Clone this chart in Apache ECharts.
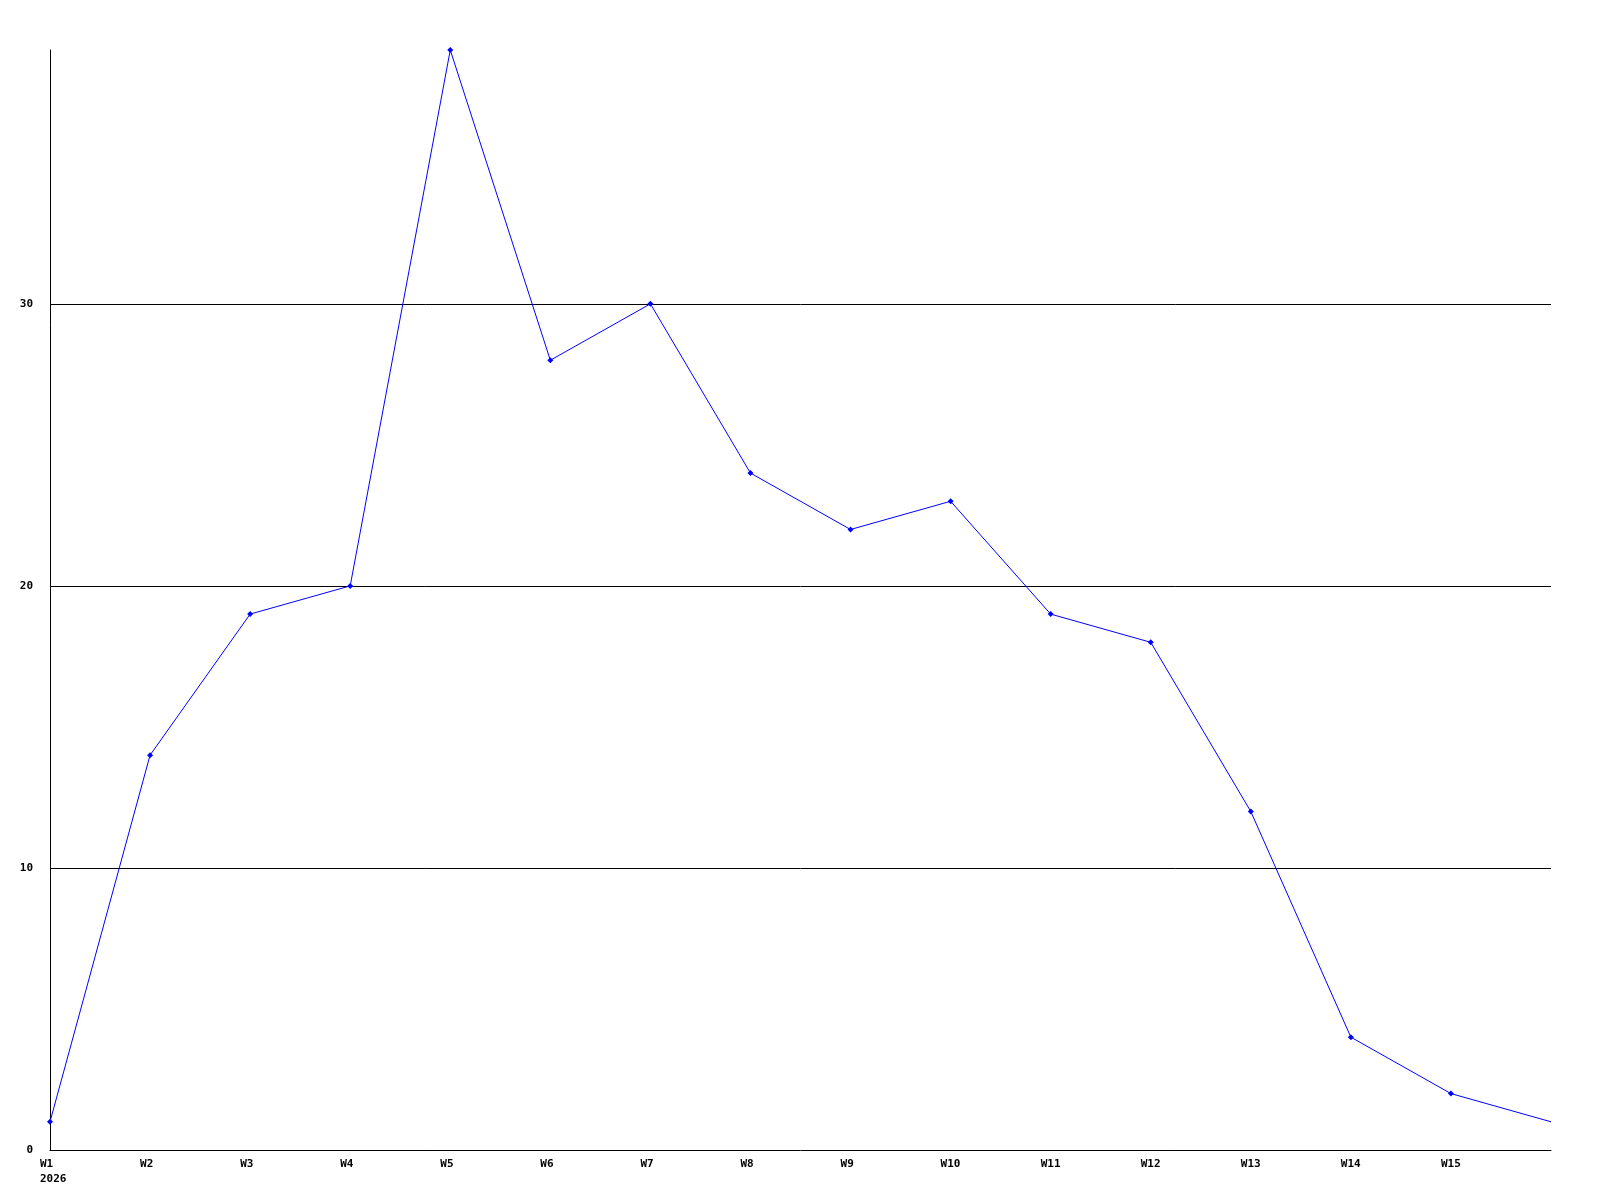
<!DOCTYPE html>
<html>
<head>
<meta charset="utf-8">
<script src="https://cdn.jsdelivr.net/npm/echarts@6/dist/echarts.min.js"></script>
<style>
html,body{margin:0;padding:0;background:#fff;}
#chart{width:1600px;height:1200px;}
</style>
</head>
<body>
<div id="chart"></div>
<script>
const categories = ['W1','W2','W3','W4','W5','W6','W7','W8','W9','W10','W11','W12','W13','W14','W15','W16'];
const values = [1,14,19,20,39,28,30,24,22,23,19,18,12,4,2,1];
const yearLabel = '2026';
const yTicks = [0,10,20,30];

const chart = echarts.init(document.getElementById('chart'), null, {renderer:'canvas'});
const font = {fontFamily:'DejaVu Sans Mono', fontWeight:'bold', fontSize:11, color:'#000'};
const seriesData = values.map(function(v, i){
  return i === values.length - 1 ? {value:v, symbol:'none'} : v;
});
chart.setOption({
  animation:false,
  backgroundColor:'#fff',
  grid:{left:50, right:49, top:50, bottom:50, containLabel:false},
  xAxis:{
    type:'category',
    data:categories,
    boundaryGap:false,
    axisLine:{show:true, lineStyle:{color:'#000', width:1}},
    axisTick:{show:false},
    splitLine:{show:false},
    axisLabel:Object.assign({
      interval:0,
      align:'left',
      margin:7,
      lineHeight:15,
      padding:[0,0,0,-10],
      showMaxLabel:true,
      formatter:function(v, i){
        if (i === categories.length - 1) return '';
        if (i === 0) return v + '\n' + yearLabel;
        return v;
      }
    }, font)
  },
  yAxis:{
    type:'value',
    min:0,
    max:39,
    interval:10,
    axisLine:{show:true, lineStyle:{color:'#000', width:1}},
    axisTick:{show:false},
    splitLine:{show:true, showMinLine:false, showMaxLine:false, lineStyle:{color:'#000', width:1}},
    axisLabel:Object.assign({
      margin:17,
      showMaxLabel:false,
      formatter:function(v){ return yTicks.indexOf(v) >= 0 ? String(v) : ''; }
    }, font)
  },
  series:[{
    type:'line',
    data:seriesData,
    symbol:'diamond',
    symbolSize:6,
    showSymbol:true,
    lineStyle:{color:'#0000ff', width:1},
    itemStyle:{color:'#0000ff'},
    emphasis:{disabled:true}
  }]
});
</script>
</body>
</html>
